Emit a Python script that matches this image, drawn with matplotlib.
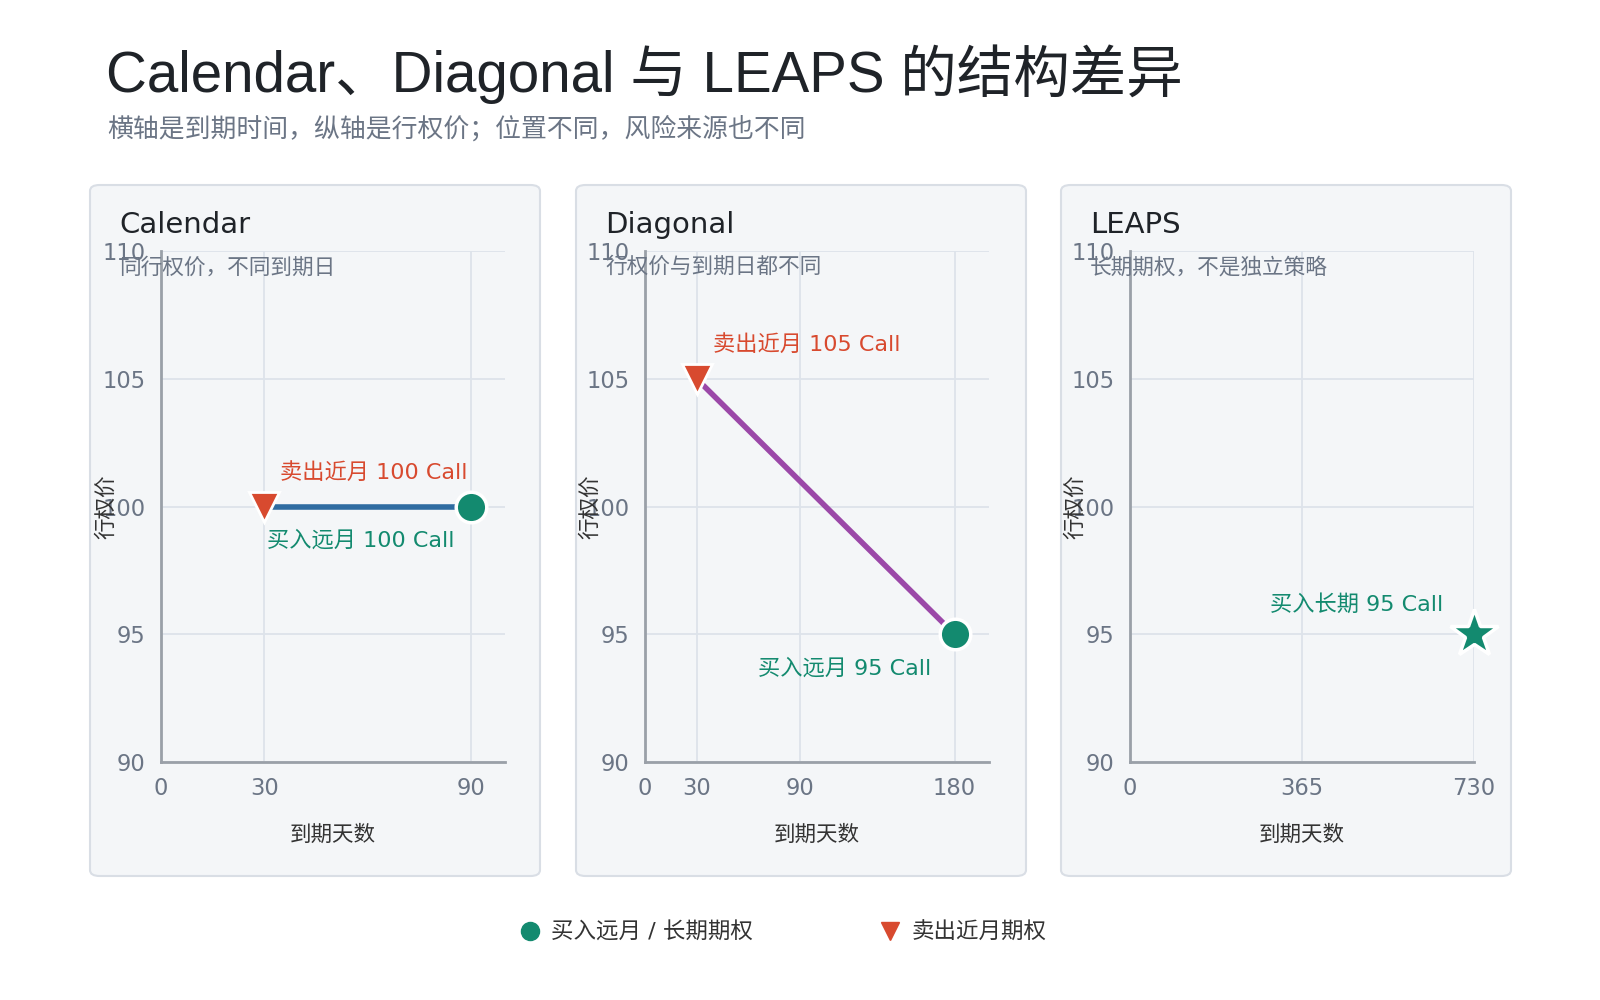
import matplotlib
matplotlib.use('Agg')
import matplotlib.pyplot as plt
from matplotlib.patches import FancyBboxPatch
from matplotlib.lines import Line2D

plt.rcParams['font.family'] = ['DejaVu Sans', 'Noto Sans CJK SC']

# data
panel_names = ['Calendar', 'Diagonal', 'LEAPS']
panel_notes = ['同行权价，不同到期日', '行权价与到期日都不同', '长期期权，不是独立策略']
x_ticks = [[0, 30, 90], [0, 30, 90, 180], [0, 365, 730]]
x_max = [100, 200, 730]
y_ticks = [90, 95, 100, 105, 110]
sell_days = [30, 30, None]
sell_strike = [100, 105, None]
buy_days = [90, 180, 730]
buy_strike = [100, 95, 95]
sell_labels = ['卖出近月 100 Call', '卖出近月 105 Call', None]
buy_labels = ['买入远月 100 Call', '买入远月 95 Call', '买入长期 95 Call']
link_colors = ['#2f6ca1', '#9b48a8', None]

GREEN = '#138a6f'
RED = '#d84a2f'
GRAY = '#6b7585'
W, H = 1600, 1000

fig = plt.figure(figsize=(16, 10), dpi=100)

fig.text(106 / W, 1 - 74 / H, 'Calendar、Diagonal 与 LEAPS 的结构差异', fontsize=40.7,
         color='#1f2328', va='center', ha='left',
         family=['Liberation Sans', 'Noto Sans CJK SC'])
fig.text(107 / W, 1 - 129 / H, '横轴是到期时间，纵轴是行权价；位置不同，风险来源也不同',
         fontsize=18.6, color=GRAY, va='center', ha='left',
         family=['Noto Sans CJK SC'])

panel_left = [90, 576, 1061]
ax_left = [161, 645, 1130]
for i in range(3):
    # panel box
    box = FancyBboxPatch((panel_left[i] / W, 1 - 876 / H), 450 / W, 691 / H,
                         boxstyle='round,pad=0,rounding_size=0.006',
                         transform=fig.transFigure, facecolor='#f4f6f8',
                         edgecolor='#d9dee5', linewidth=1.5, zorder=-5)
    fig.patches.append(box)
    fig.text((panel_left[i] + 29) / W, 1 - 225 / H, panel_names[i], fontsize=21,
             color='#1f2328', va='center', ha='left')

    ax = fig.add_axes([ax_left[i] / W, 1 - 762 / H, 344 / W, 511 / H])
    ax.set_facecolor('none')
    ax.set_xlim(0, x_max[i])
    ax.set_ylim(90, 110)
    ax.set_xticks(x_ticks[i])
    ax.set_yticks(y_ticks)
    ax.grid(True, color='#dde3ea', linewidth=1.3)
    ax.set_axisbelow(True)
    for s in ['top', 'right']:
        ax.spines[s].set_visible(False)
    for s in ['left', 'bottom']:
        ax.spines[s].set_color('#9aa0a8')
        ax.spines[s].set_linewidth(2)
    ax.tick_params(length=0, labelsize=16.3, labelcolor=GRAY)
    ax.tick_params(axis='x', pad=11)
    ax.tick_params(axis='y', pad=11)
    ax.set_xlabel('到期天数', fontsize=15.5, color='#333333')
    ax.xaxis.set_label_coords(0.5, -0.122)
    ax.set_ylabel('行权价', fontsize=15.5, color='#333333')
    ax.yaxis.set_label_coords(-0.13, 0.5)

    fig.text((panel_left[i] + 29) / W, 1 - 267 / H, panel_notes[i], fontsize=15.6,
             color=GRAY, va='center', ha='left', zorder=5)

    if sell_days[i] is not None:
        ax.plot([sell_days[i], buy_days[i]], [sell_strike[i], buy_strike[i]],
                color=link_colors[i], linewidth=4, zorder=3, solid_capstyle='butt')
        ax.plot(sell_days[i], sell_strike[i], marker='v', markersize=22, color=RED,
                markeredgecolor='white', markeredgewidth=2, zorder=4, clip_on=False)
        ax.annotate(sell_labels[i], (sell_days[i], sell_strike[i]), xytext=(110, 34),
                    textcoords='offset pixels', ha='center', va='center',
                    fontsize=16, color=RED)
        ax.plot(buy_days[i], buy_strike[i], marker='o', markersize=22, color=GREEN,
                markeredgecolor='white', markeredgewidth=2.5, zorder=4, clip_on=False)
        ax.annotate(buy_labels[i], (buy_days[i], buy_strike[i]), xytext=(-110, -34),
                    textcoords='offset pixels', ha='center', va='center',
                    fontsize=16, color=GREEN)
    else:
        ax.plot(buy_days[i], buy_strike[i], marker='*', markersize=36, color=GREEN,
                markeredgecolor='white', markeredgewidth=2.5, zorder=4, clip_on=False)
        ax.annotate(buy_labels[i], (buy_days[i], buy_strike[i]), xytext=(-117, 30),
                    textcoords='offset pixels', ha='center', va='center',
                    fontsize=16, color=GREEN)

handles = [Line2D([], [], linestyle='none', marker='o', markersize=13, color=GREEN),
           Line2D([], [], linestyle='none', marker='v', markersize=13, color=RED)]
fig.legend(handles, ['买入远月 / 长期期权', '卖出近月期权'], loc='center',
           bbox_to_anchor=(0.489, 0.068), ncol=2, frameon=False, fontsize=16.2,
           handlelength=1.0, columnspacing=5.6, handletextpad=0.45, labelcolor='#333333')

fig.savefig('out.png', dpi=100)
